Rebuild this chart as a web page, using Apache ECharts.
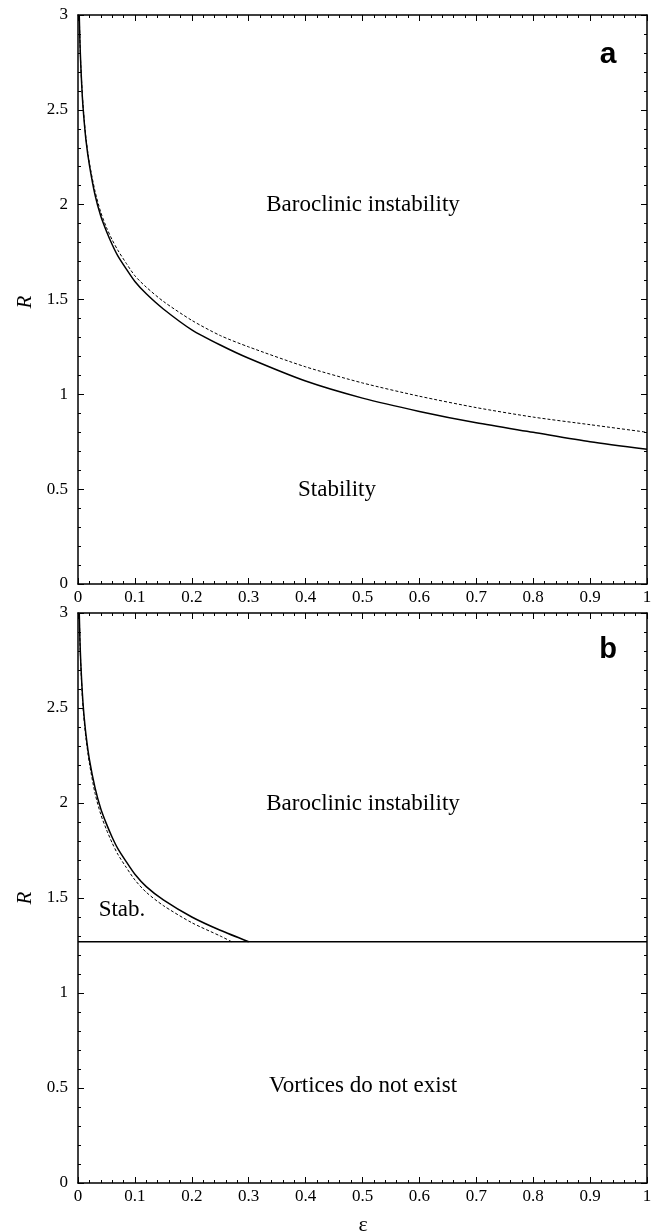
<!DOCTYPE html>
<html><head><meta charset="utf-8">
<script src="https://cdn.jsdelivr.net/npm/echarts@6/dist/echarts.min.js"></script>
<style>html,body{margin:0;padding:0;background:#fff}#c{width:656px;height:1232px}</style>
</head><body><div id="c"></div>
<script>
// Panel a
const aSolidEps = [0.0022,0.0035,0.005,0.0076,0.01,0.014,0.02,0.03,0.04,0.05,0.06,0.07,0.085,0.1,0.12,0.15,0.2,0.25,0.3,0.4,0.5,0.6,0.7,0.8,0.9,1.0];
const aSolidR   = [3.0,2.85,2.73,2.57,2.47,2.34,2.21,2.05,1.94,1.86,1.79,1.73,1.66,1.595,1.53,1.45,1.34,1.26,1.19,1.07,0.98,0.91,0.85,0.80,0.75,0.71];
const aDashEps  = [0.0022,0.0035,0.005,0.0076,0.01,0.014,0.02,0.03,0.04,0.05,0.06,0.07,0.085,0.1,0.12,0.15,0.2,0.25,0.3,0.4,0.5,0.6,0.7,0.8,0.9,1.0];
const aDashR    = [3.0,2.85,2.73,2.58,2.48,2.35,2.22,2.07,1.96,1.88,1.815,1.76,1.69,1.625,1.565,1.49,1.39,1.31,1.25,1.145,1.06,0.99,0.93,0.88,0.84,0.80];
// Panel b
const bSolidEps = [0.0022,0.0035,0.005,0.0076,0.01,0.014,0.02,0.03,0.04,0.05,0.06,0.07,0.085,0.1,0.12,0.15,0.2,0.25,0.3];
const bSolidR   = [3.0,2.85,2.73,2.58,2.48,2.36,2.23,2.08,1.97,1.89,1.82,1.76,1.69,1.625,1.56,1.49,1.40,1.33,1.27];
const bDashEps  = [0.0022,0.0035,0.005,0.0076,0.01,0.014,0.02,0.03,0.04,0.05,0.06,0.07,0.085,0.1,0.12,0.15,0.2,0.25,0.27];
const bDashR    = [3.0,2.84,2.72,2.56,2.46,2.34,2.21,2.05,1.94,1.86,1.79,1.73,1.66,1.595,1.53,1.46,1.37,1.30,1.27];
const bLineEps  = [0, 1];
const bLineR    = [1.27, 1.27];
const xTicks = [0,0.1,0.2,0.3,0.4,0.5,0.6,0.7,0.8,0.9,1];
const yTicks = [0,0.5,1,1.5,2,2.5,3];

const zip = (xs, ys) => xs.map((x, i) => [x, ys[i]]);
const serif = 'Liberation Serif';
const grids = [
  {left:78, top:15, width:569, height:569},
  {left:78, top:613, width:569, height:570}
];
const axLine = {show:true, onZero:false, lineStyle:{color:'#000', width:1.5}};
function xAx(gi, pos, showLabel){
  return {type:'value', gridIndex:gi, position:pos, min:0, max:1, interval:0.1,
    axisLine:axLine, axisTick:{show:true, inside:true, length:6, lineStyle:{color:'#000', width:1}},
    minorTick:{show:true, splitNumber:5, length:3, lineStyle:{color:'#000', width:1}},
    splitLine:{show:false}, minorSplitLine:{show:false},
    axisLabel:{show:showLabel, color:'#000', fontFamily:serif, fontSize:17, margin:5,
      formatter:v=>{const r=Math.round(v*10)/10; return xTicks.includes(r)?String(r):'';}}};
}
function yAx(gi, pos, showLabel){
  return {type:'value', gridIndex:gi, position:pos, min:0, max:3, interval:0.5,
    axisLine:axLine, axisTick:{show:true, inside:true, length:6, lineStyle:{color:'#000', width:1}},
    minorTick:{show:true, splitNumber:5, length:3, lineStyle:{color:'#000', width:1}},
    splitLine:{show:false}, minorSplitLine:{show:false},
    axisLabel:{show:showLabel, color:'#000', fontFamily:serif, fontSize:17, margin:10,
      formatter:v=>{const r=Math.round(v*10)/10; return yTicks.includes(r)?String(r):'';}}};
}
function ln(name, gi, data, dashed){
  return {type:'line', name, xAxisIndex:gi*2, yAxisIndex:gi*2, data, showSymbol:false, symbol:'none',
    smooth:0.25, clip:true, animation:false,
    lineStyle:{color:'#000', width:dashed?1:1.5, type:dashed?[3,2]:'solid'}};
}
const sf = '"Liberation Serif", serif';
const txt = (x, y, t, extra) => ({type:'text', x:x, y:y, style:Object.assign({text:t, fill:'#000', font:'23px '+sf, align:'center', verticalAlign:'middle'}, extra||{})});

const chart = echarts.init(document.getElementById('c'), null, {renderer:'canvas'});
chart.setOption({
  backgroundColor:'#fff',
  animation:false,
  grid: grids,
  xAxis: [xAx(0,'bottom',true), xAx(0,'top',false), xAx(1,'bottom',true), xAx(1,'top',false)],
  yAxis: [yAx(0,'left',true), yAx(0,'right',false), yAx(1,'left',true), yAx(1,'right',false)],
  series: [
    ln('a solid', 0, zip(aSolidEps, aSolidR), false),
    ln('a dashed', 0, zip(aDashEps, aDashR), true),
    ln('b solid', 1, zip(bSolidEps, bSolidR), false),
    ln('b dashed', 1, zip(bDashEps, bDashR), true),
    Object.assign(ln('b line', 1, zip(bLineEps, bLineR), false), {smooth:false})
  ],
  graphic: [
    txt(608, 55, 'a', {font:'bold 30px "Liberation Sans", sans-serif'}),
    txt(608, 650, 'b', {font:'bold 29px "Liberation Sans", sans-serif'}),
    txt(363, 205, 'Baroclinic instability'),
    txt(337, 490, 'Stability'),
    txt(363, 804, 'Baroclinic instability'),
    txt(122, 910, 'Stab.'),
    txt(363, 1086, 'Vortices do not exist'),
    {type:'text', x:25, y:302, rotation:Math.PI/2, style:{text:'R', fill:'#000', font:'italic 21px '+sf, align:'center', verticalAlign:'middle'}},
    {type:'text', x:25, y:898, rotation:Math.PI/2, style:{text:'R', fill:'#000', font:'italic 21px '+sf, align:'center', verticalAlign:'middle'}},
    {type:'text', x:363, y:1225, style:{text:'ε', fill:'#000', font:'22px '+sf, align:'center', verticalAlign:'middle'}}
  ]
});
</script></body></html>
